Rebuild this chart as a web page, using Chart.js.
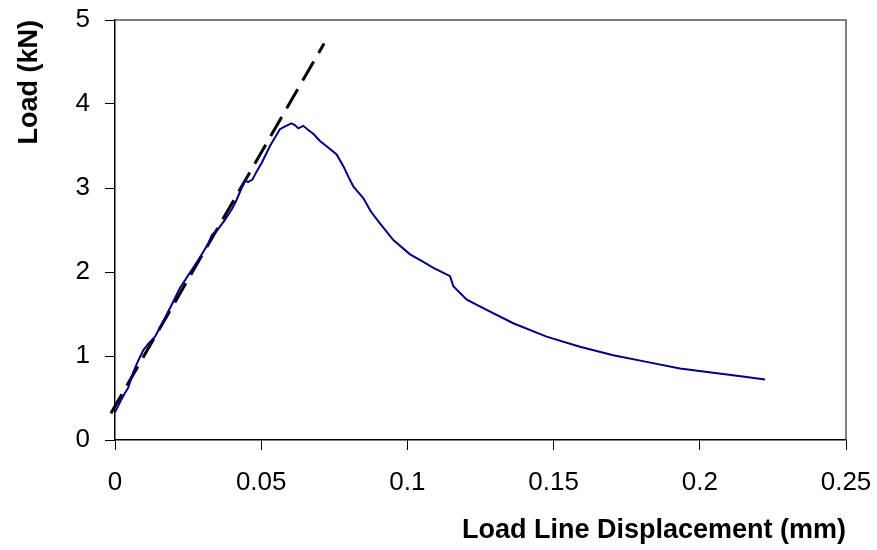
<!DOCTYPE html>
<html>
<head>
<meta charset="utf-8">
<script src="https://cdn.jsdelivr.net/npm/chart.js@4/dist/chart.umd.min.js"></script>
<style>
  html, body { margin: 0; padding: 0; background: #fff; }
  #wrap { width: 877px; height: 550px; }
</style>
</head>
<body>
<div id="wrap"><canvas id="c" width="877" height="550"></canvas></div>
<script>
// Measured curve: load line displacement (mm) vs load (kN)
const displacement = [0.0000, 0.0010, 0.0020, 0.0034, 0.0045, 0.0063, 0.0080, 0.0097, 0.0115, 0.0137,
  0.0160, 0.0194, 0.0222, 0.0256, 0.0290, 0.0319, 0.0331, 0.0350, 0.0376, 0.0400,
  0.0416, 0.0433, 0.0445, 0.0455, 0.0470, 0.0485, 0.0502, 0.0530, 0.0564, 0.0585, 0.0604,
  0.0615, 0.0627, 0.0644, 0.0661, 0.0680, 0.0701, 0.0730, 0.0758, 0.0781, 0.0800,
  0.0815, 0.0849, 0.0875, 0.0906, 0.0952, 0.1009, 0.1050, 0.1089, 0.1146, 0.1157,
  0.1203, 0.1271, 0.1362, 0.1476, 0.1590, 0.1704, 0.1818, 0.1932, 0.2046, 0.2160, 0.2223];
const load = [0.33, 0.40, 0.47, 0.56, 0.62, 0.81, 0.95, 1.07, 1.15, 1.23,
  1.38, 1.61, 1.81, 1.99, 2.17, 2.34, 2.44, 2.50, 2.62, 2.75,
  2.86, 3.00, 3.09, 3.07, 3.10, 3.20, 3.30, 3.50, 3.70, 3.74, 3.77,
  3.75, 3.71, 3.74, 3.69, 3.64, 3.56, 3.48, 3.40, 3.26, 3.12,
  3.02, 2.88, 2.72, 2.58, 2.38, 2.21, 2.13, 2.05, 1.95, 1.83,
  1.67, 1.55, 1.39, 1.23, 1.11, 1.01, 0.93, 0.85, 0.80, 0.75, 0.72];
// Linear (initial stiffness) reference line
const fitDisplacement = [-0.0014, 0.0715];
const fitLoad = [0.318, 4.72];
// Axis tick values
const xTicks = [0, 0.05, 0.1, 0.15, 0.2, 0.25];
const yTicks = [0, 1, 2, 3, 4, 5];

const curvePoints = displacement.map((x, i) => ({ x: x, y: load[i] }));
const fitPoints = fitDisplacement.map((x, i) => ({ x: x, y: fitLoad[i] }));

const frame = {
  id: 'frame',
  afterDatasetsDraw(chart) {
    const a = chart.chartArea, ctx = chart.ctx;
    ctx.save();
    ctx.strokeStyle = '#555';
    ctx.lineWidth = 1.5;
    ctx.beginPath();
    ctx.moveTo(a.left, a.top);
    ctx.lineTo(a.right, a.top);
    ctx.lineTo(a.right, a.bottom);
    ctx.stroke();
    ctx.restore();
  }
};

function noOverflow(scale) {
  scale.paddingLeft = 0; scale.paddingRight = 0;
  scale.paddingTop = 0; scale.paddingBottom = 0;
}

new Chart(document.getElementById('c'), {
  type: 'scatter',
  data: {
    datasets: [
      {
        data: curvePoints,
        showLine: true,
        borderColor: '#000080',
        borderWidth: 2,
        pointRadius: 0,
        tension: 0,
        fill: false
      },
      {
        data: fitPoints,
        showLine: true,
        borderColor: '#000000',
        borderWidth: 3,
        borderDash: [22, 10],
        pointRadius: 0,
        tension: 0,
        fill: false,
        clip: false
      }
    ]
  },
  options: {
    responsive: false,
    animation: false,
    devicePixelRatio: 1,
    layout: { padding: { left: 0, top: 20, right: 31, bottom: 0 } },
    plugins: { legend: { display: false }, tooltip: { enabled: false } },
    scales: {
      x: {
        type: 'linear',
        min: 0, max: 0.25,
        afterBuildTicks(scale) { scale.ticks = xTicks.map(v => ({ value: v })); },
        afterFit(scale) { scale.height = 110; noOverflow(scale); },
        grid: { drawOnChartArea: false, drawTicks: true, tickLength: 10, color: '#000', lineWidth: 1 },
        border: { color: '#000', width: 1.5 },
        ticks: {
          padding: 17,
          color: '#000',
          font: { family: 'Liberation Sans, Arial, sans-serif', size: 26 },
          maxRotation: 0,
          callback: v => String(v)
        },
        title: {
          display: true,
          text: 'Load Line Displacement (mm)',
          align: 'end',
          color: '#000',
          font: { family: 'Liberation Sans, Arial, sans-serif', size: 27, weight: 'bold' },
          padding: { top: 0, bottom: 3 }
        }
      },
      y: {
        type: 'linear',
        min: 0, max: 5,
        afterBuildTicks(scale) { scale.ticks = yTicks.map(v => ({ value: v })); },
        afterFit(scale) { scale.width = 115; noOverflow(scale); },
        grid: { drawOnChartArea: false, drawTicks: true, tickLength: 10, color: '#000', lineWidth: 1 },
        border: { color: '#000', width: 1.5 },
        ticks: {
          padding: 15,
          color: '#000',
          font: { family: 'Liberation Sans, Arial, sans-serif', size: 26 },
          callback: v => String(v)
        },
        title: {
          display: true,
          text: 'Load (kN)',
          align: 'end',
          color: '#000',
          font: { family: 'Liberation Sans, Arial, sans-serif', size: 27, weight: 'bold' },
          padding: { top: 13, bottom: 0 }
        }
      }
    }
  },
  plugins: [frame]
});
</script>
</body>
</html>
